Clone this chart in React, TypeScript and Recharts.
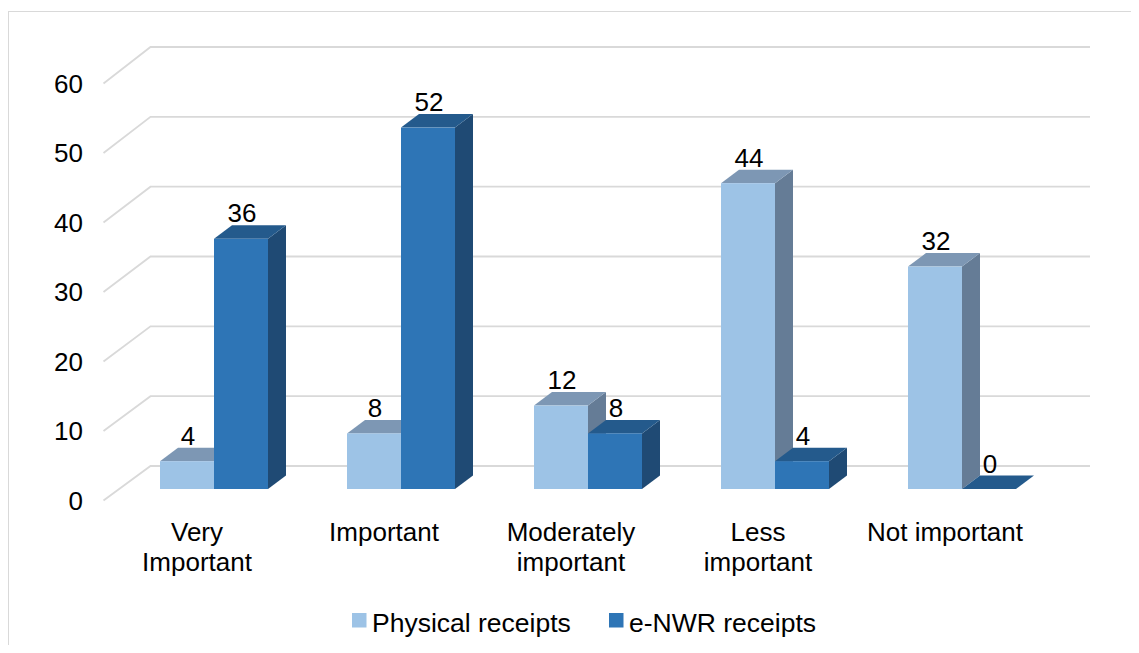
import React from 'react';
import { BarChart, Bar, XAxis, YAxis, CartesianGrid, LabelList, Legend } from 'recharts';

// Survey: importance rating by receipt type (percent of respondents)
const categories = ['Very Important', 'Important', 'Moderately important', 'Less important', 'Not important'];
const categoryLines = [['Very', 'Important'], ['Important'], ['Moderately', 'important'], ['Less', 'important'], ['Not important']];
const physicalReceipts = [4, 8, 12, 44, 32];
const enwrReceipts = [36, 52, 8, 4, 0];
const yTicks = [0, 10, 20, 30, 40, 50, 60];

const data = categories.map((category, i) => ({
  category,
  physical: physicalReceipts[i],
  enwr: enwrReceipts[i],
}));

const FONT = '"Liberation Sans", Arial, Helvetica, sans-serif';
const FONT_SIZE = 26;
const LEGEND_FONT_SIZE = 26.5;
const CHART_W = 1123;
const CHART_H = 637;
const MARGIN = { top: 75.5, right: 92.5, left: 35.5, bottom: 44.5 };
const PLOT_BOTTOM = CHART_H - MARGIN.bottom - 100;

// Oblique projection used for the 3-D look
const FRONT_DX = 16.5;
const FRONT_DY = -11.5;
const DEPTH_DX = 18;
const DEPTH_DY = -13.5;
const WALL_DX = 47;
const WALL_DY = -34.5;

const palettes = {
  physical: { front: '#9DC3E6', top: '#7D97B4', side: '#657C96' },
  enwr: { front: '#2E75B6', top: '#245A8C', side: '#1F4A74' },
};

type Palette = { front: string; top: string; side: string };

const Box3D = (props: any) => {
  const { x, y, width, height, palette } = props as { x: number; y: number; width: number; height: number; palette: Palette };
  const x0 = x + FRONT_DX;
  const x1 = x0 + width;
  const yT = y + FRONT_DY;
  const yB = y + height + FRONT_DY;
  return (
    <g>
      <polygon
        points={`${x1},${yT} ${x1 + DEPTH_DX},${yT + DEPTH_DY} ${x1 + DEPTH_DX},${yB + DEPTH_DY} ${x1},${yB}`}
        fill={palette.side}
      />
      <polygon
        points={`${x0},${yT} ${x1},${yT} ${x1 + DEPTH_DX},${yT + DEPTH_DY} ${x0 + DEPTH_DX},${yT + DEPTH_DY}`}
        fill={palette.top}
      />
      {yB - yT > 0 && <rect x={x0} y={yT} width={width} height={yB - yT} fill={palette.front} />}
    </g>
  );
};

const ValueLabel = (props: any) => {
  const vb = props.viewBox || {};
  const x = props.x ?? vb.x;
  const y = props.y ?? vb.y;
  const width = props.width ?? vb.width;
  const cx = x + FRONT_DX + width / 2 + 1;
  const by = y + FRONT_DY + DEPTH_DY - 3;
  return (
    <text x={cx} y={by} textAnchor="middle" fontFamily={FONT} fontSize={FONT_SIZE} fill="#000">
      {props.value}
    </text>
  );
};

const CategoryTick = (props: any) => {
  const { x, y, payload } = props;
  const idx = categories.indexOf(payload.value);
  const lines = categoryLines[idx] || [payload.value];
  return (
    <text x={x} y={y + 40.5} textAnchor="middle" fontFamily={FONT} fontSize={FONT_SIZE} fill="#000">
      {lines.map((line, k) => (
        <tspan key={k} x={x} dy={k === 0 ? 0 : 30}>
          {line}
        </tspan>
      ))}
    </text>
  );
};

// Horizontal gridline: short diagonal on the side wall, then along the back wall
const GridLine = (p: any) => {
  const { x1, y1, x2 } = p;
  const by = y1 + WALL_DY - (PLOT_BOTTOM - y1) * (2 / 417);
  return (
    <path
      key={`grid-${y1}`}
      d={`M${x1},${y1}L${x1 + WALL_DX},${by}L${x2 + 51.5},${by}`}
      stroke="#D9D9D9"
      strokeWidth={1.8}
      fill="none"
    />
  );
};

const legendStarts = [344, 601];

const LegendContent = (props: any) => {
  const items = props.payload || [];
  return (
    <svg width={CHART_W} height={44} style={{ display: 'block' }}>
      {items.map((item: any, i: number) => (
        <g key={item.value}>
          <rect x={legendStarts[i]} y={13} width={14.5} height={14.5} fill={item.color} />
          <text x={legendStarts[i] + 20} y={32} fontFamily={FONT} fontSize={LEGEND_FONT_SIZE} fill="#000">
            {item.value}
          </text>
        </g>
      ))}
    </svg>
  );
};

export default function App() {
  return (
    <div style={{ position: 'relative', width: CHART_W, height: CHART_H }}>
      <div
        style={{
          position: 'absolute',
          left: 0,
          top: 3,
          width: 1131,
          height: CHART_H - 3,
          borderTop: '1px solid #D9D9D9',
          borderLeft: '1px solid #D9D9D9',
          boxSizing: 'border-box',
          pointerEvents: 'none',
        }}
      />
      <BarChart
        width={CHART_W}
        height={CHART_H}
        data={data}
        margin={MARGIN}
        barCategoryGap={40}
        barGap={0}
        style={{ fontFamily: FONT }}
      >
        <CartesianGrid vertical={false} horizontal={GridLine as any} />
        <XAxis
          dataKey="category"
          axisLine={false}
          tickLine={false}
          tickSize={0}
          tickMargin={0}
          height={100}
          interval={0}
          tick={<CategoryTick />}
        />
        <YAxis
          domain={[0, 60]}
          ticks={yTicks}
          axisLine={false}
          tickLine={false}
          width={60}
          tickMargin={14.5}
          tick={{ fontSize: FONT_SIZE, fill: '#000', fontFamily: FONT }}
        />
        <Legend
          layout="horizontal"
          verticalAlign="middle"
          align="center"
          wrapperStyle={{ top: 592, left: 0, width: CHART_W, height: 44 }}
          content={<LegendContent />}
        />
        <Bar
          dataKey="physical"
          name="Physical receipts"
          fill={palettes.physical.front}
          isAnimationActive={false}
          shape={(p: any) => <Box3D {...p} palette={palettes.physical} />}
        >
          <LabelList dataKey="physical" content={<ValueLabel />} />
        </Bar>
        <Bar
          dataKey="enwr"
          name="e-NWR receipts"
          fill={palettes.enwr.front}
          isAnimationActive={false}
          shape={(p: any) => <Box3D {...p} palette={palettes.enwr} />}
        >
          <LabelList dataKey="enwr" content={<ValueLabel />} />
        </Bar>
      </BarChart>
    </div>
  );
}
